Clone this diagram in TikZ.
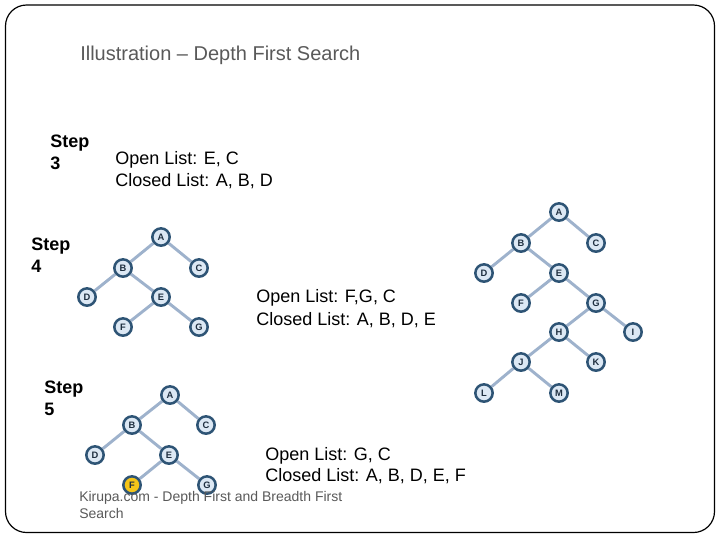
\documentclass[tikz,border=0pt]{standalone}
\usepackage{fontspec}
\setmainfont{Liberation Sans}
\usetikzlibrary{backgrounds}
\definecolor{nodefill}{HTML}{DCE8F4}
\definecolor{nodeborder}{HTML}{2E5475}
\definecolor{edgec}{HTML}{9EB2CC}
\definecolor{labelc}{HTML}{1F2F40}
\definecolor{greytext}{HTML}{595959}
\definecolor{visited}{HTML}{F5C518}
\tikzset{
  tn/.style={circle, draw=nodeborder, fill=nodefill, line width=1.9pt, minimum size=13pt, inner sep=0pt,
    font=\fontsize{7}{7}\selectfont\bfseries, text=labelc},
  tnv/.style={tn, fill=visited},
  ed/.style={draw=edgec, line width=2.2pt},
  steplab/.style={anchor=base west, inner sep=0pt, font=\fontsize{13.5}{16.5}\selectfont\bfseries, align=left},
  listlab/.style={anchor=base west, inner sep=0pt, font=\fontsize{13.5}{16.5}\selectfont, align=left},
  titlelab/.style={anchor=base west, inner sep=0pt, font=\fontsize{15}{18}\selectfont, text=greytext},
  footlab/.style={anchor=base west, inner sep=0pt, font=\fontsize{10.5}{12.75}\selectfont, text=greytext}
}
\begin{document}
\begin{tikzpicture}[x=0.75pt,y=-0.75pt]
\useasboundingbox (0,0) rectangle (720,540);
\draw[line width=0.9pt, rounded corners=15.75pt] (5.5,5) rectangle (714.5,532.5);

\node[titlelab] (title) at (80,60) {Illustration -- Depth First Search};

% Step 3 text
\node[steplab] (s3a) at (50,147.5) {Step};
\node[steplab] (s3b) at (50,169.5) {3};
\node[listlab] (o3) at (115,164.5) {Open List: E, C};
\node[listlab] (c3) at (115,186.5) {Closed List: A, B, D};

% Step 4 text
\node[steplab] (s4a) at (31,250.5) {Step};
\node[steplab] (s4b) at (31,272.5) {4};
\node[listlab] (o4) at (256,302.5) {Open List: F,G, C};
\node[listlab] (c4) at (256,325) {Closed List: A, B, D, E};

% Step 5 text
\node[steplab] (s5a) at (44,393.5) {Step};
\node[steplab] (s5b) at (44,415.5) {5};
\node[listlab] (o5) at (265,460.5) {Open List: G, C};
\node[listlab] (c5) at (265,481.5) {Closed List: A, B, D, E, F};

% Tree 1 (step 4)
\node[tn] (pA) at (161,237) {A};
\node[tn] (pB) at (123,268) {B};
\node[tn] (pC) at (199,268) {C};
\node[tn] (pD) at (87,297) {D};
\node[tn] (pE) at (161,297) {E};
\node[tn] (pF) at (123,327) {F};
\node[tn] (pG) at (199,327) {G};
\begin{scope}[on background layer]
\draw[ed] (pA) -- (pB); \draw[ed] (pA) -- (pC);
\draw[ed] (pB) -- (pD); \draw[ed] (pB) -- (pE);
\draw[ed] (pE) -- (pF); \draw[ed] (pE) -- (pG);
\end{scope}

% Tree 2 (right)
\node[tn] (qA) at (559,212) {A};
\node[tn] (qB) at (521,243) {B};
\node[tn] (qC) at (596,243) {C};
\node[tn] (qD) at (484,273) {D};
\node[tn] (qE) at (559,273) {E};
\node[tn] (qF) at (521,303) {F};
\node[tn] (qG) at (596,303) {G};
\node[tn] (qH) at (559,332) {H};
\node[tn] (qI) at (633,332) {I};
\node[tn] (qJ) at (521,362) {J};
\node[tn] (qK) at (596,362) {K};
\node[tn] (qL) at (484,393) {L};
\node[tn] (qM) at (559,393) {M};
\begin{scope}[on background layer]
\draw[ed] (qA) -- (qB); \draw[ed] (qA) -- (qC);
\draw[ed] (qB) -- (qD); \draw[ed] (qB) -- (qE);
\draw[ed] (qE) -- (qF); \draw[ed] (qE) -- (qG);
\draw[ed] (qG) -- (qH); \draw[ed] (qG) -- (qI);
\draw[ed] (qH) -- (qJ); \draw[ed] (qH) -- (qK);
\draw[ed] (qJ) -- (qL); \draw[ed] (qJ) -- (qM);
\end{scope}

% Tree 3 (step 5)
\node[tn] (rA) at (170,395) {A};
\node[tn] (rB) at (132,425) {B};
\node[tn] (rC) at (206,425) {C};
\node[tn] (rD) at (95,455) {D};
\node[tn] (rE) at (169,455) {E};
\node[tnv] (rF) at (132,485) {F};
\node[tn] (rG) at (207,485) {G};
\begin{scope}[on background layer]
\draw[ed] (rA) -- (rB); \draw[ed] (rA) -- (rC);
\draw[ed] (rB) -- (rD); \draw[ed] (rB) -- (rE);
\draw[ed] (rE) -- (rF); \draw[ed] (rE) -- (rG);
\end{scope}

% Footer
\node[footlab] (foot1) at (79,501) {Kirupa.com - Depth First and Breadth First};
\node[footlab] (foot2) at (79,518) {Search};
\end{tikzpicture}
\end{document}
